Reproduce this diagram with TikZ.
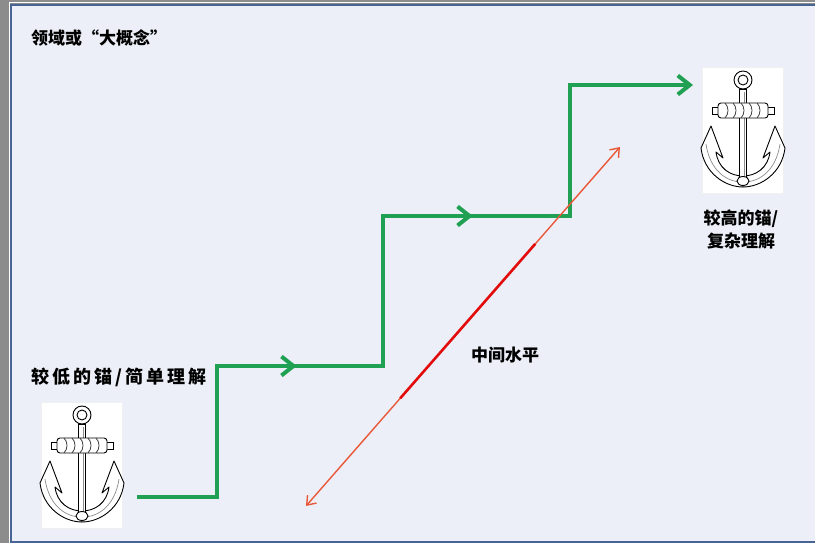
\documentclass[tikz,border=0pt]{standalone}
\usepackage{fontspec}
\newfontfamily\cjk{Noto Sans CJK SC}
\usetikzlibrary{arrows.meta,calc}

\definecolor{pagegray}{RGB}{140,140,140}
\definecolor{panelbg}{RGB}{236,239,247}
\definecolor{panelframe}{RGB}{72,100,148}
\definecolor{stepgreen}{RGB}{32,160,82}
\definecolor{levelred}{RGB}{234,88,58}
\definecolor{corered}{RGB}{226,12,12}

\tikzset{
  anchorbox/.style={fill=white, draw=black!6, minimum width=81pt, minimum height=126pt, inner sep=0pt},
  labeltext/.style={font=\cjk\bfseries\fontsize{17}{23}\selectfont, text=black, inner sep=0pt},
  stair/.style={draw=stepgreen, line width=4pt},
  chevron/.style={-{Straight Barb[length=12pt,width=19pt]}},
  level/.style={draw=levelred, line width=1.4pt},
  core/.style={draw=corered, line width=2.6pt},
  % engraved anchor, drawn around its shank
  anchorpic/.pic={
    \foreach \s in {1,-1}{
      \begin{scope}[xscale=\s]
        \filldraw[fill=white, draw=black, line width=0.9pt, line join=round]
          (0,46) .. controls (-13,46) and (-25,38) .. (-27,22)
          -- (-20,28) -- (-32,-4) -- (-42,18)
          .. controls (-39,43) and (-18,57) .. (0,57) -- cycle;
        \draw[black!45, line width=0.7pt] (-1,52) .. controls (-16,52) and (-33,41) .. (-37,14);
        \filldraw[fill=white, draw=black, line width=0.9pt] (-31,-23) rectangle (-24,-16);
      \end{scope}
    }
    \filldraw[fill=white, draw=black, line width=0.9pt] (-3.5,-41) rectangle (3.5,50);
    \draw[black!45, line width=0.6pt] (1.5,-38) -- (1.5,48);
    \filldraw[fill=white, draw=black, line width=0.9pt] (0,51) ellipse (6pt and 4.5pt);
    \filldraw[fill=white, draw=black, line width=0.9pt, rounded corners=3pt] (-25,-27) rectangle (25,-12);
    \foreach \x in {-18,-10,-2,6,14}
      \draw[black!75, line width=0.8pt] (\x,-27) .. controls (\x+4,-23) and (\x+4,-16) .. (\x,-12);
    \filldraw[fill=white, draw=black, line width=0.9pt, even odd rule] (0,-50) circle (9pt) (0,-50) circle (5pt);
  }
}

\begin{document}
\begin{tikzpicture}[x=1pt, y=-1pt]
\useasboundingbox (0,0) rectangle (815,543);
\fill[pagegray] (0,0) rectangle (815,543);
\draw[white, line width=1pt] (9,3) rectangle (832,545);
\filldraw[fill=panelbg, draw=panelframe, line width=2pt] (11,5) rectangle (830,542);

% anchors
\node[anchorbox] (lowanchor) at (82,465) {};
\pic at (lowanchor.center) {anchorpic};
\node[anchorbox] (highanchor) at (743,130) {};
\pic at (highanchor.center) {anchorpic};

% labels
\node[labeltext, anchor=west] (domain) at (31,38) {领域或“大概念”};
\node[labeltext, anchor=west] (lowlabel) at (31,377) {\fontsize{18}{23}\selectfont\addfontfeatures{LetterSpace=17}较低的锚/简单理解};
\node[labeltext, align=center] (highlabel) at (741,229) {较高的锚/\\复杂理解};
\node[labeltext] (midlabel) at (505,355) {中间水平};

% staircase
\coordinate (s0) at (137,497);
\coordinate (s1) at (217,366);
\coordinate (s2) at (383,216);
\coordinate (s3) at (570,85);
\coordinate (s4) at (693,85);
\path[stair, chevron] (s0) -| (s1) -| (s2) -| (s3) -- (s4);
\path[stair, chevron] (s1) -- ($(s1)!0.48!(s1 -| s2)$);
\path[stair, chevron] (s2) -- ($(s2)!0.48!(s2 -| s3)$);

% intermediate level
\coordinate (lvlA) at (306,506);
\coordinate (lvlB) at (620,147);
\path[level, {Straight Barb[length=8pt,width=12pt]}-{Straight Barb[length=8pt,width=12pt]}] (lvlA) -- (lvlB);
\path[core] ($(lvlA)!0.3!(lvlB)$) -- ($(lvlA)!0.73!(lvlB)$);
\end{tikzpicture}
\end{document}
